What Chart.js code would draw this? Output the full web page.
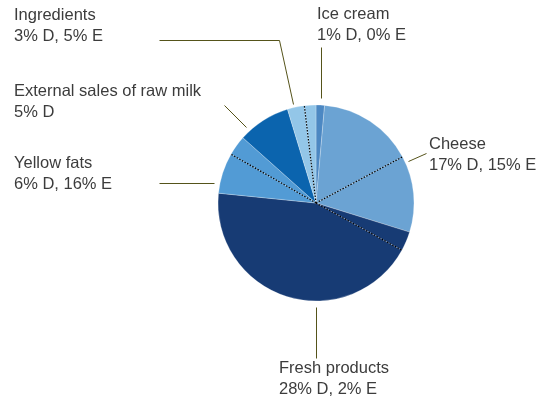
<!doctype html>
<html lang="en">
  <head>
    <title>Sales by product group</title>
    <script src="https://cdn.jsdelivr.net/npm/chart.js"></script>
    <style>
      html, body { margin: 0; padding: 0; background: #fff; }
      #wrap { width: 548px; height: 398px; position: relative; }
    </style>
  </head>
  <body>
    <div id="wrap"><canvas id="pieChart"></canvas></div>

    <script>
      // Product groups, clockwise from 12 o'clock
      const categories = ['Ice cream', 'Cheese', 'Fresh products', 'Yellow fats', 'External sales of raw milk', 'Ingredients'];
      // Shares written in the callouts (D / E), null where no E figure is given
      const dShare = [1, 17, 28, 6, 5, 3];
      const eShare = [0, 15, 2, 16, null, 5];
      // Slice sizes in percent of the pie; groups with two parts are split by a dotted line
      const sliceParts = [
        [1.4],
        [15.8, 12.6],
        [3.2, 43.6],
        [6.7, 3.3],
        [8.7],
        [2.8, 1.9]
      ];
      const groupColors = ['#4c88c3', '#6ba3d3', '#173b74', '#529bd5', '#0b64ae', '#93c6e8'];

      // Callout layout: text anchor and leader line for each group
      const callouts = [
        { x: 317, y: 19, line: [[321, 47], [321, 98]] },
        { x: 429, y: 149, line: [[408, 161], [426, 153]] },
        { x: 279, y: 373, line: [[316, 307], [316, 358]] },
        { x: 14, y: 168, line: [[159, 183], [214, 183]] },
        { x: 14, y: 96, line: [[224, 105], [246, 127]] },
        { x: 14, y: 20, line: [[159, 40], [279, 40], [293, 104]] }
      ];

      // Flatten the groups into one dataset, remembering where each split starts
      const values = [];
      const colors = [];
      const splitIndex = [];
      sliceParts.forEach((parts, g) => {
        parts.forEach((v, i) => {
          if (i > 0) splitIndex.push(values.length);
          values.push(v);
          colors.push(groupColors[g]);
        });
      });

      const calloutPlugin = {
        id: 'callouts',
        afterDatasetsDraw(chart) {
          const ctx = chart.ctx;
          const arcs = chart.getDatasetMeta(0).data;

          // dotted split lines inside a group
          ctx.save();
          ctx.strokeStyle = '#000';
          ctx.lineWidth = 1.2;
          ctx.setLineDash([1.5, 1.5]);
          splitIndex.forEach(i => {
            const a = arcs[i];
            ctx.beginPath();
            ctx.moveTo(a.x, a.y);
            ctx.lineTo(a.x + Math.cos(a.startAngle) * a.outerRadius, a.y + Math.sin(a.startAngle) * a.outerRadius);
            ctx.stroke();
          });
          ctx.restore();

          // leader lines and labels
          ctx.save();
          ctx.strokeStyle = '#55531a';
          ctx.lineWidth = 1;
          callouts.forEach(c => {
            ctx.beginPath();
            c.line.forEach((p, i) => {
              if (i === 0) ctx.moveTo(p[0] + 0.5, p[1] + 0.5);
              else ctx.lineTo(p[0] + 0.5, p[1] + 0.5);
            });
            ctx.stroke();
          });

          ctx.fillStyle = '#3c3c3c';
          ctx.font = '16.5px "Liberation Sans", Arial, sans-serif';
          ctx.textBaseline = 'alphabetic';
          ctx.textAlign = 'left';
          categories.forEach((name, g) => {
            const c = callouts[g];
            let second = dShare[g] + '% D';
            if (eShare[g] !== null) second += ', ' + eShare[g] + '% E';
            ctx.fillText(name, c.x, c.y);
            ctx.fillText(second, c.x, c.y + 20.5);
          });
          ctx.restore();
        }
      };

      new Chart(document.getElementById('pieChart'), {
        type: 'pie',
        data: {
          labels: values.map((_, i) => 'part ' + i),
          datasets: [{
            data: values,
            backgroundColor: colors,
            borderColor: 'rgba(255,255,255,0.5)',
            borderWidth: 0.5
          }]
        },
        options: {
          responsive: true,
          maintainAspectRatio: false,
          animation: false,
          radius: 98,
          layout: { padding: { left: 218, right: 134, top: 105, bottom: 97 } },
          plugins: {
            legend: { display: false },
            tooltip: { enabled: false }
          }
        },
        plugins: [calloutPlugin]
      });
    </script>
  </body>
</html>
